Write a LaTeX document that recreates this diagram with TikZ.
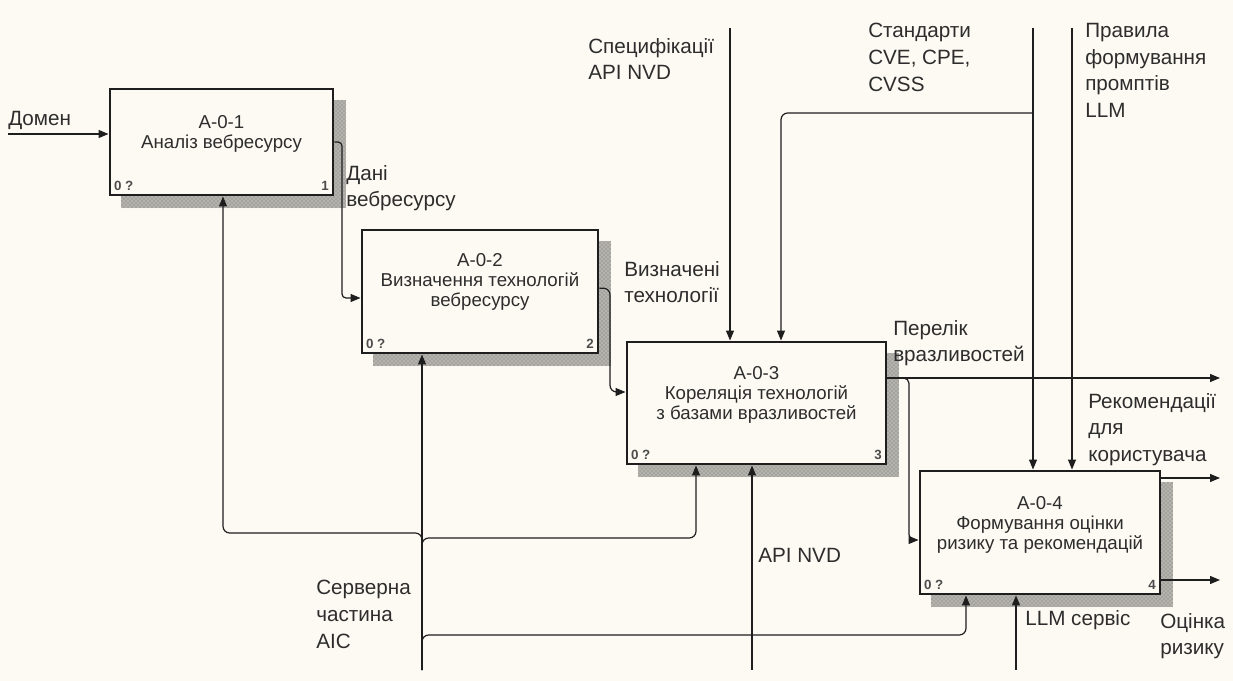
\documentclass[tikz,border=0pt]{standalone}
\usepackage{fontspec}
\setmainfont{Liberation Sans}
\usetikzlibrary{arrows.meta,patterns,backgrounds,calc}
\definecolor{paper}{RGB}{253,250,243}
\definecolor{ink}{RGB}{30,30,30}
\definecolor{txt}{RGB}{45,45,45}
\definecolor{hatchbg}{RGB}{165,163,158}
\definecolor{hatchdot}{RGB}{235,233,228}
\tikzset{
  funcbox/.style={draw=ink, line width=2.2pt, fill=paper, inner sep=0pt},
  boxtext/.style={align=center, text=txt, inner sep=0pt, font=\fontsize{14}{15}\selectfont},
  boxnum/.style={text=txt!85, inner sep=0pt, font=\bfseries\fontsize{10}{11}\selectfont},
  lbl/.style={anchor=north west, inner sep=0pt, align=left, text=txt, font=\fontsize{15.5}{20}\selectfont},
  flow/.style={draw=ink, line width=0.9pt, rounded corners=5pt, -{Triangle[length=7.5pt,width=6pt]}},
  shadowfill/.style={fill=hatchbg},
  shadowdots/.style={pattern=crosshatch dots, pattern color=hatchdot},
}
\begin{document}
\begin{tikzpicture}[x=0.75pt,y=-0.75pt]
\useasboundingbox (0,0) rectangle (1233,681);

% function boxes
\node[funcbox, minimum width=223*0.75pt, minimum height=106*0.75pt] (b1) at (221.5,142) {};
\node[funcbox, minimum width=236*0.75pt, minimum height=123*0.75pt] (b2) at (480,291.5) {};
\node[funcbox, minimum width=259*0.75pt, minimum height=122*0.75pt] (b3) at (756.5,403) {};
\node[funcbox, minimum width=240*0.75pt, minimum height=123*0.75pt] (b4) at (1040,532.5) {};

% paper and hatched box shadows
\begin{scope}[on background layer]
  \fill[paper] (0,0) rectangle (1233,681);
  \foreach \b in {b1,b2,b3,b4}{
    \fill[shadowfill] ([shift={(9pt,-9pt)}]\b.north west) rectangle ([shift={(9pt,-9pt)}]\b.south east);
    \fill[shadowdots] ([shift={(9pt,-9pt)}]\b.north west) rectangle ([shift={(9pt,-9pt)}]\b.south east);
  }
\end{scope}

% box captions
\node[boxtext] (t1) at ([yshift=6pt]b1.center) {A-0-1\\Аналіз вебресурсу};
\node[boxtext] (t2) at ([yshift=7.5pt]b2.center) {A-0-2\\Визначення технологій\\вебресурсу};
\node[boxtext] (t3) at ([yshift=6pt]b3.center) {A-0-3\\Кореляція технологій\\з базами вразливостей};
\node[boxtext] (t4) at ([yshift=6pt]b4.center) {A-0-4\\Формування оцінки\\ризику та рекомендацій};

% box corner numbers
\foreach \b/\n in {b1/1,b2/2,b3/3,b4/4}{
  \node[boxnum, anchor=south west] (\b l) at ([shift={(4pt,4pt)}]\b.south west) {0 ?};
  \node[boxnum, anchor=south east] (\b r) at ([shift={(-4pt,4pt)}]\b.south east) {\n};
}

% free ends and bends
\coordinate (in1) at (8,134);
\coordinate (k12) at (342,298);
\coordinate (k23) at (610,392);
\coordinate (o3)  at (1220,378);
\coordinate (k34) at (909,540);
\coordinate (o4a) at (1220,478);
\coordinate (o4b) at (1220,580);
\coordinate (c1)  at (730,28);
\coordinate (c2)  at (1033,28);
\coordinate (k2)  at (781,113);
\coordinate (c3)  at (1072,28);
\coordinate (m1)  at (422,670);
\coordinate (kA)  at (223,533);
\coordinate (kC)  at (696,538);
\coordinate (kD)  at (966,635);
\coordinate (m2)  at (752,670);
\coordinate (m3)  at (1016,670);

% inputs and outputs
\draw[flow] (in1) -- (in1 -| b1.west);
\draw[flow, rounded corners=3pt] (b1.east) -| (k12) -- (k12 -| b2.west);
\draw[flow] ([yshift=2.5pt]b2.east) -| (k23) -- (k23 -| b3.west);
\draw[flow] (b3.east |- o3) -- (o3);
\draw[flow, rounded corners=4pt] (b3.east |- o3) -| (k34) -- (k34 -| b4.west);
\draw[flow] (b4.east |- o4a) -- (o4a);
\draw[flow] (b4.east |- o4b) -- (o4b);

% controls
\draw[flow] (c1) -- (c1 |- b3.north);
\draw[flow] (c2) -- (c2 |- b4.north);
\draw[flow] (c2 |- k2) -| (k2 |- b3.north);
\draw[flow] (c3) -- (c3 |- b4.north);

% mechanisms
\draw[flow] (m1) -- (m1 |- b2.south);
\draw[flow] (m1) |- (kA) -- (kA |- b1.south);
\draw[flow] (m1) |- (kC) -- (kC |- b3.south);
\draw[flow] (m1) |- (kD) -- (kD |- b4.south);
\draw[flow] (m2) -- (m2 |- b3.south);
\draw[flow] (m3) -- (m3 |- b4.south);

% arrow labels
\node[lbl] (l1)  at (8,111)    {Домен};
\node[lbl] (l2)  at (346,165)  {Дані\\вебресурсу};
\node[lbl] (l3)  at (624,261)  {Визначені\\технології};
\node[lbl] (l4)  at (588,38)   {Специфікації\\API NVD};
\node[lbl] (l5)  at (868,23)   {Стандарти\\CVE, CPE,\\CVSS};
\node[lbl] (l6)  at (1085,23)  {Правила\\формування\\промптів\\LLM};
\node[lbl] (l7)  at (893,320)  {Перелік\\вразливостей};
\node[lbl] (l8)  at (1088,393) {Рекомендації\\для\\користувача};
\node[lbl] (l9)  at (1160,613) {Оцінка\\ризику};
\node[lbl] (l10) at (1025,610) {LLM сервіс};
\node[lbl] (l11) at (758,548)  {API NVD};
\node[lbl] (l12) at (316,580)  {Серверна\\частина\\AIC};
\end{tikzpicture}
\end{document}
